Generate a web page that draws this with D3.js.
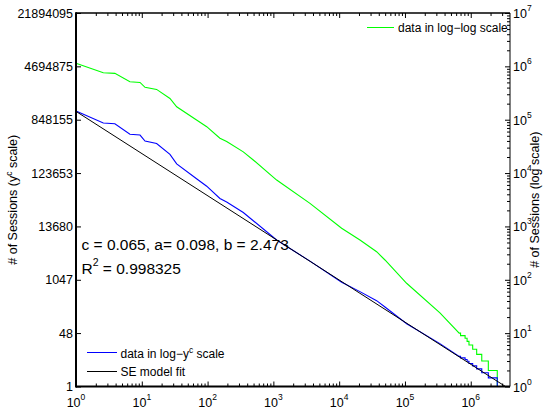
<!DOCTYPE html>
<html>
<head>
<meta charset="utf-8">
<script src="https://cdn.jsdelivr.net/npm/d3@7"></script>
<style>
  body { margin: 0; background: #fff; }
  text { font-family: "Liberation Sans", Arial, sans-serif; }
</style>
</head>
<body>
<div id="chart"></div>
<script>
// rank vs. number of sessions
const ranks = [1, 2.6, 3.9, 6.6, 9.4, 11.2, 16.8, 26.8, 33.9, 68, 97, 154, 195, 349, 495,
  1122, 3600, 10900, 20700, 37100, 49700, 106000, 340000, 667000];
const sessions = [1140000, 760000, 740000, 515000, 500000, 405000, 370000, 250000, 175000,
  99000, 74000, 45000, 39000, 25000, 17600, 7400, 2700, 923, 556, 336, 235, 86, 24, 10];

// integer tail: value held until rank tailEnd
const tailSessions = [10, 9, 8, 7, 6, 5, 4, 3, 2, 1];
const tailEnd = [700000, 820000, 880000, 940000, 1070000, 1230000, 1470000, 1850000, 2530000, 3950000];

// SE model fit endpoints (y^c = b - a ln x)
const fitRanks = [1, 3370000];
const fitSessions = [1122000, 1];

const leftTicks = [1, 48, 1047, 13680, 123653, 848155, 4694875, 21894095];
const rightExp = [0, 1, 2, 3, 4, 5, 6, 7];
const bottomExp = [0, 1, 2, 3, 4, 5, 6];

const W = 543, H = 412;
const pLeft = 76, pRight = 510, pTop = 13, pBottom = 386.5;

const svg = d3.select("#chart").append("svg")
    .attr("width", W)
    .attr("height", H);

const x = d3.scaleLog().domain([1, 3950000]).range([pLeft, pRight]);
const yL = d3.scalePow().exponent(0.065).domain([1, 21894095]).range([pBottom, pTop]);
const yR = d3.scaleLog().domain([1, 1e7]).range([pBottom, pTop]);

// build the point list
const pts = ranks.map((r, i) => ({ r: r, v: sessions[i] }));
let prev = ranks[ranks.length - 1];
tailSessions.forEach((v, i) => {
    pts.push({ r: prev, v: v });
    pts.push({ r: tailEnd[i], v: v });
    prev = tailEnd[i];
});
const fit = fitRanks.map((r, i) => ({ r: r, v: fitSessions[i] }));

const lineR = d3.line().x(d => x(d.r)).y(d => yR(d.v));
const lineL = d3.line().x(d => x(d.r)).y(d => yL(d.v));

svg.append("path").attr("d", lineR(pts))
    .attr("fill", "none").attr("stroke", "#00ff00").attr("stroke-width", 1.1);
svg.append("path").attr("d", lineL(pts))
    .attr("fill", "none").attr("stroke", "#0000ff").attr("stroke-width", 1.1);
svg.append("path").attr("d", lineL(fit))
    .attr("fill", "none").attr("stroke", "#000").attr("stroke-width", 1);

// minor tick values for log axes
const minorsOf = (e0, e1) => {
    const out = [];
    for (let e = e0; e < e1; e++)
        for (let k = 2; k <= 9; k++) out.push(k * Math.pow(10, e));
    return out;
};
const xMinor = minorsOf(0, 7).filter(v => v < 3950000);
const xMajor = bottomExp.map(e => Math.pow(10, e));

const styleAxis = g => {
    g.select(".domain").remove();
    g.selectAll("line").attr("stroke", "#000");
};

// bottom ticks
svg.append("g").attr("transform", `translate(0,${pBottom})`)
    .call(d3.axisBottom(x).tickValues(xMajor).tickFormat("").tickSizeInner(-5).tickSizeOuter(0))
    .call(styleAxis);
svg.append("g").attr("transform", `translate(0,${pBottom})`)
    .call(d3.axisBottom(x).tickValues(xMinor).tickFormat("").tickSizeInner(-3).tickSizeOuter(0))
    .call(styleAxis);
// top ticks
svg.append("g").attr("transform", `translate(0,${pTop})`)
    .call(d3.axisTop(x).tickValues(xMajor).tickFormat("").tickSizeInner(-5).tickSizeOuter(0))
    .call(styleAxis);
svg.append("g").attr("transform", `translate(0,${pTop})`)
    .call(d3.axisTop(x).tickValues(xMinor).tickFormat("").tickSizeInner(-3).tickSizeOuter(0))
    .call(styleAxis);

// left axis (y^c)
svg.append("g").attr("transform", `translate(${pLeft},0)`)
    .call(d3.axisLeft(yL).tickValues(leftTicks).tickFormat(d3.format("d"))
        .tickSizeInner(-5).tickSizeOuter(0).tickPadding(3))
    .call(styleAxis)
    .call(g => g.selectAll("text")
        .attr("fill", "#000")
        .style("font-size", "12.5px")
        .style("font-family", "Liberation Sans, Arial, sans-serif"));

// right axis (log)
svg.append("g").attr("transform", `translate(${pRight},0)`)
    .call(d3.axisRight(yR).tickValues(rightExp.map(e => Math.pow(10, e))).tickFormat("")
        .tickSizeInner(-5).tickSizeOuter(0))
    .call(styleAxis);
svg.append("g").attr("transform", `translate(${pRight},0)`)
    .call(d3.axisRight(yR).tickValues(minorsOf(0, 7)).tickFormat("")
        .tickSizeInner(-3).tickSizeOuter(0))
    .call(styleAxis);

// frame
svg.append("line").attr("x1", pLeft).attr("x2", pRight).attr("y1", pTop).attr("y2", pTop)
    .attr("stroke", "#000").attr("stroke-width", 1.5);
svg.append("line").attr("x1", pRight).attr("x2", pRight).attr("y1", pTop).attr("y2", pBottom)
    .attr("stroke", "#000").attr("stroke-width", 1);
svg.append("line").attr("x1", pLeft).attr("x2", pRight).attr("y1", pBottom).attr("y2", pBottom)
    .attr("stroke", "#000").attr("stroke-width", 2);
svg.append("line").attr("x1", pLeft).attr("x2", pLeft).attr("y1", pTop - 0.75).attr("y2", pBottom + 1)
    .attr("stroke", "#000").attr("stroke-width", 2);

// power-of-ten labels
const powLabel = (sel, e) => {
    sel.append("tspan").text("10").style("font-size", "12.5px");
    sel.append("tspan").text(e).attr("dy", -7).style("font-size", "8.5px");
};
bottomExp.forEach(e => {
    svg.append("text")
        .attr("x", x(Math.pow(10, e)))
        .attr("y", 406.5)
        .attr("text-anchor", "middle")
        .call(t => powLabel(t, e));
});
rightExp.forEach(e => {
    svg.append("text")
        .attr("x", pRight + 3)
        .attr("y", yR(Math.pow(10, e)) + 5)
        .call(t => powLabel(t, e));
});

// axis titles
svg.append("text")
    .attr("transform", `translate(17,${(pTop + pBottom) / 2}) rotate(-90)`)
    .attr("text-anchor", "middle")
    .style("font-size", "12.5px")
    .call(t => {
        t.append("tspan").text("# of Sessions (y");
        t.append("tspan").text("c").attr("dy", -5).style("font-size", "8.5px");
        t.append("tspan").text(" scale)").attr("dy", 5);
    });
svg.append("text")
    .attr("transform", `translate(539,${(pTop + pBottom) / 2}) rotate(-90)`)
    .attr("text-anchor", "middle")
    .style("font-size", "12.5px")
    .text("# of Sessions (log scale)");

// model annotation
svg.append("text").attr("x", 81.5).attr("y", 249.5)
    .style("font-size", "15.5px")
    .text("c = 0.065, a= 0.098, b = 2.473");
svg.append("text").attr("x", 81.5).attr("y", 273.5)
    .style("font-size", "15.5px")
    .call(t => {
        t.append("tspan").text("R");
        t.append("tspan").text("2").attr("dy", -8).style("font-size", "10.5px");
        t.append("tspan").text(" = 0.998325").attr("dy", 8);
    });

// legends
const legendTop = svg.append("g");
legendTop.append("line").attr("x1", 367).attr("x2", 394).attr("y1", 27.5).attr("y2", 27.5)
    .attr("stroke", "#00ff00");
legendTop.append("text").attr("x", 398).attr("y", 32)
    .style("font-size", "12px")
    .text("data in log\u2212log scale");

const legendBottom = svg.append("g");
legendBottom.append("line").attr("x1", 87).attr("x2", 117).attr("y1", 352.5).attr("y2", 352.5)
    .attr("stroke", "#0000ff");
legendBottom.append("text").attr("x", 120.5).attr("y", 358)
    .style("font-size", "12px")
    .call(t => {
        t.append("tspan").text("data in log\u2212y");
        t.append("tspan").text("c").attr("dy", -5).style("font-size", "8.5px");
        t.append("tspan").text(" scale").attr("dy", 5);
    });
legendBottom.append("line").attr("x1", 87).attr("x2", 117).attr("y1", 371.5).attr("y2", 371.5)
    .attr("stroke", "#000");
legendBottom.append("text").attr("x", 120.5).attr("y", 376)
    .style("font-size", "12px")
    .text("SE model fit");
</script>
</body>
</html>
